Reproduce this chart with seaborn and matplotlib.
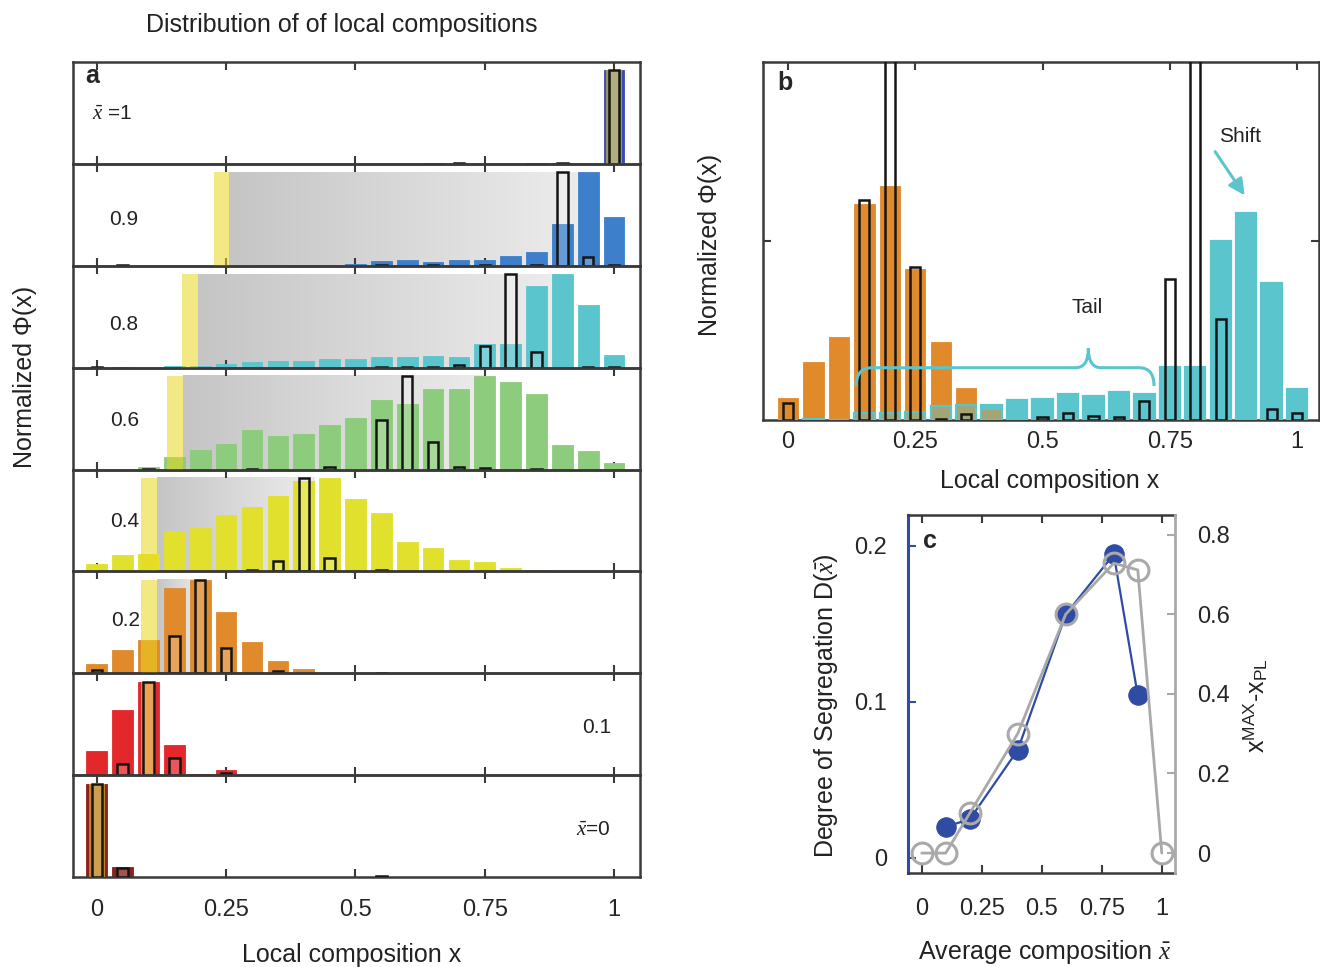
import numpy as np
import pandas as pd
import matplotlib
matplotlib.use("Agg")
import matplotlib.pyplot as plt
import seaborn as sns
from matplotlib.colors import LinearSegmentedColormap
from matplotlib.path import Path
from matplotlib.patches import PathPatch

# ---------------------------------------------------------------- data
bins = [0.00, 0.05, 0.10, 0.15, 0.20, 0.25, 0.30, 0.35, 0.40, 0.45, 0.50,
        0.55, 0.60, 0.65, 0.70, 0.75, 0.80, 0.85, 0.90, 0.95, 1.00]
xticks = [0, 0.25, 0.5, 0.75, 1]
xtick_labels = ["0", "0.25", "0.5", "0.75", "1"]

row_labels = [r"$\bar{x}$ =1", "0.9", "0.8", "0.6", "0.4", "0.2", "0.1", r"$\bar{x}$=0"]
row_colors = ["#3a4cb0", "#3d7fcb", "#5bc5ce", "#8dcc7c", "#e1e12d", "#e08a2c", "#e3282c", "#8e1f1f"]

# normalized Phi(x) (coloured bars), panel a, top to bottom
phi_10 = [0, 0, 0, 0, 0, 0, 0, 0, 0, 0, 0, 0, 0, 0.005, 0, 0, 0, 0.005, 0.012, 0, 1.0]
phi_09 = [0, 0, 0, 0, 0, 0, 0, 0, 0, 0, 0.015, 0.055, 0.058, 0.044, 0.065, 0.065, 0.099, 0.142, 0.445, 1.0, 0.518]
phi_08 = [0.005, 0.003, 0, 0.022, 0.022, 0.037, 0.059, 0.066, 0.066, 0.092, 0.095, 0.117, 0.114, 0.128, 0.117, 0.256, 0.256, 0.872, 1.0, 0.667, 0.139]
phi_06 = [0, 0, 0.029, 0.135, 0.205, 0.278, 0.421, 0.363, 0.385, 0.48, 0.546, 0.74, 0.703, 0.864, 0.857, 1.0, 0.934, 0.813, 0.264, 0.201, 0.066]
phi_04 = [0.075, 0.175, 0.187, 0.437, 0.466, 0.604, 0.687, 0.806, 0.963, 1.0, 0.776, 0.627, 0.31, 0.25, 0.119, 0.104, 0.037, 0.011, 0, 0, 0]
phi_02 = [0.094, 0.25, 0.359, 0.917, 1.0, 0.652, 0.337, 0.134, 0.043, 0, 0, 0, 0, 0, 0, 0, 0, 0, 0, 0, 0]
phi_01 = [0.253, 0.693, 1.0, 0.325, 0.014, 0.058, 0, 0, 0, 0, 0, 0, 0, 0, 0, 0, 0, 0, 0, 0, 0]
phi_00 = [1.0, 0.112, 0, 0, 0, 0, 0, 0, 0, 0, 0, 0.004, 0, 0, 0, 0, 0, 0, 0, 0, 0]

# PL reference distribution (black open bars), panel a
pl_10 = [0, 0, 0, 0, 0, 0, 0, 0, 0, 0, 0, 0, 0, 0, 0.01, 0, 0, 0, 0.012, 0, 1.0]
pl_09 = [0, 0.008, 0, 0, 0, 0, 0, 0, 0, 0, 0, 0.006, 0, 0.005, 0, 0.005, 0, 0.008, 1.0, 0.09, 0.012]
pl_08 = [0.006, 0, 0, 0, 0, 0, 0, 0, 0, 0, 0, 0.006, 0.004, 0.004, 0.03, 0.227, 1.0, 0.168, 0, 0.008, 0.008]
pl_06 = [0, 0, 0.004, 0, 0, 0, 0.008, 0, 0, 0.03, 0, 0.531, 1.0, 0.293, 0.026, 0.012, 0, 0.006, 0, 0, 0]
pl_04 = [0, 0, 0, 0, 0, 0, 0.02, 0.112, 1.0, 0.142, 0, 0.02, 0, 0, 0, 0, 0, 0, 0, 0, 0]
pl_02 = [0.04, 0, 0, 0.395, 1.0, 0.275, 0, 0.02, 0, 0, 0, 0.008, 0, 0, 0, 0, 0, 0, 0, 0, 0]
pl_01 = [0, 0.116, 1.0, 0.188, 0, 0.02, 0, 0, 0, 0, 0, 0, 0, 0, 0, 0, 0, 0, 0, 0, 0]
pl_00 = [1.0, 0.10, 0, 0, 0, 0, 0, 0, 0, 0, 0, 0.006, 0, 0, 0, 0, 0, 0, 0, 0, 0]

phi_rows = [phi_10, phi_09, phi_08, phi_06, phi_04, phi_02, phi_01, phi_00]
pl_rows = [pl_10, pl_09, pl_08, pl_06, pl_04, pl_02, pl_01, pl_00]

x_pl = [1.0, 0.241, 0.18, 0.151, 0.101, 0.101, 0.1, 0.0]          # yellow markers
x_grad_end = [None, 0.93, 0.89, 0.75, 0.42, 0.20, None, None]    # end of grey tail

# panel b
b_phi_02 = [0.061, 0.162, 0.233, 0.604, 0.655, 0.421, 0.218, 0.088, 0.028, 0, 0, 0, 0, 0, 0, 0, 0, 0, 0, 0, 0]
b_phi_08 = [0, 0.002, 0, 0.019, 0.02, 0.022, 0.039, 0.043, 0.041, 0.056, 0.058, 0.073, 0.068, 0.079, 0.073, 0.147, 0.147, 0.501, 0.579, 0.384, 0.087]
b_pl_02 = [0.048, 0, 0, 0.614, 1.6, 0.426, 0.004, 0.018, 0, 0, 0, 0, 0, 0, 0, 0, 0, 0, 0, 0, 0]
b_pl_08 = [0, 0, 0, 0, 0, 0, 0, 0, 0, 0, 0.009, 0.02, 0.011, 0.009, 0.053, 0.393, 1.6, 0.281, 0, 0.03, 0.019]

# panel c
c_xbar_D = [0.1, 0.2, 0.4, 0.6, 0.8, 0.9]
c_D = [0.0199, 0.0246, 0.069, 0.156, 0.1945, 0.104]
c_xbar_S = [0.0, 0.1, 0.2, 0.4, 0.6, 0.8, 0.9, 1.0]
c_S = [0.0, 0.0, 0.1, 0.3, 0.6, 0.728, 0.711, 0.0]

# ---------------------------------------------------------------- style
sns.set_theme(style="white")
plt.rcParams["font.family"] = ["Liberation Sans", "DejaVu Sans"]
plt.rcParams["mathtext.fontset"] = "custom"
plt.rcParams["mathtext.rm"] = "Liberation Sans"
plt.rcParams["mathtext.it"] = "Liberation Serif:italic"
plt.rcParams["mathtext.bf"] = "Liberation Sans:bold"

SPINE = "#3a3a3a"
YELLOW = "#e8d820"
CYAN = "#5bc5ce"
ORANGE = "#e08a2c"
BLUE_C = "#2f4ba3"
GRAY_C = "#a9a9a9"
TICK_FS = 17
LAB_FS = 18

W, H = 1320, 967
fig = plt.figure(figsize=(W / 100, H / 100), dpi=100)
fig.patch.set_facecolor("white")


def fx(px):
    return px / W


def fy(py):
    return 1 - py / H


def style_spines(ax, color=SPINE, lw=1.8):
    for s in ax.spines.values():
        s.set_visible(True)
        s.set_color(color)
        s.set_linewidth(lw)


grad_cmap = LinearSegmentedColormap.from_list("tail", ["#c5c5c5", "#ececec"])
grad_img = np.linspace(0, 1, 256).reshape(1, -1)

# ---------------------------------------------------------------- panel a
a_l, a_r, a_t, a_b = 73, 640, 62, 877
row_h = (a_b - a_t) / 8
axes_a = []
for i in range(8):
    top = a_t + i * row_h
    ax = fig.add_axes([fx(a_l), fy(top + row_h), fx(a_r - a_l), row_h / H])
    axes_a.append(ax)
    col = row_colors[i]
    # grey gradient (tail region)
    if x_grad_end[i] is not None:
        ax.imshow(grad_img, extent=[x_pl[i] + 0.015, x_grad_end[i], 0, 1.0],
                  cmap=grad_cmap, aspect="auto", zorder=0.5, interpolation="bilinear")
    df = pd.DataFrame({"x": bins, "phi": phi_rows[i]})
    sns.barplot(data=df, x="x", y="phi", native_scale=True, color=col,
                saturation=1, width=0.8, errorbar=None, ax=ax,
                edgecolor=col, linewidth=0.6, zorder=2)
    # yellow x_PL marker
    ax.bar([x_pl[i]], [1.0], width=0.03, color=YELLOW, alpha=0.55,
           linewidth=0, zorder=3)
    # open PL bars
    pl = np.array(pl_rows[i])
    m = pl > 0
    ax.bar(np.array(bins)[m], pl[m], width=0.02, facecolor=(1, 1, 1, 0.22),
           edgecolor="#151515", linewidth=1.8, zorder=4)
    ax.set_xlim(-0.046, 1.05)
    ax.set_ylim(0, 1.09)
    ax.set_xlabel("")
    ax.set_ylabel("")
    ax.set_yticks([])
    ax.set_xticks(xticks)
    ax.tick_params(axis="x", direction="in", top=True, bottom=True, length=6,
                   width=1.5, color=SPINE, labelsize=TICK_FS,
                   labelbottom=(i == 7), pad=16)
    if i == 7:
        ax.set_xticklabels(xtick_labels)
    style_spines(ax)
    ax.set_facecolor("none")

# row labels (axes-fraction positions)
lab_pos = [(0.069, 0.49), (0.090, 0.45), (0.090, 0.42), (0.092, 0.48),
           (0.092, 0.49), (0.092, 0.52), (0.924, 0.47), (0.918, 0.47)]
for i, (lx, ly) in enumerate(lab_pos):
    axes_a[i].text(lx, ly, row_labels[i], transform=axes_a[i].transAxes,
                   fontsize=15, ha="center", va="center", color="#222", zorder=6)

axes_a[0].text(0.034, 0.86, "a", transform=axes_a[0].transAxes, fontsize=18,
               fontweight="bold", ha="center", va="center")
fig.text(fx(342), fy(25), "Distribution of of local compositions", fontsize=LAB_FS,
         ha="center", va="center", color="#222")
fig.text(fx(352), fy(955), "Local composition x", fontsize=LAB_FS,
         ha="center", va="center", color="#222")
fig.text(fx(25), fy(377), "Normalized \u03a6(x)", fontsize=LAB_FS, rotation=90,
         ha="center", va="center", color="#222")

# ---------------------------------------------------------------- panel b
b_l, b_r, b_t, b_b = 763, 1319, 62, 420
axb = fig.add_axes([fx(b_l), fy(b_b), fx(b_r - b_l), (b_b - b_t) / H])
dfb = pd.DataFrame({"x": bins, "p02": b_phi_02, "p08": b_phi_08})
sns.barplot(data=dfb, x="x", y="p08", native_scale=True, color=CYAN, saturation=1,
            width=0.8, errorbar=None, ax=axb, edgecolor=CYAN, linewidth=0.6, zorder=1)
sns.barplot(data=dfb, x="x", y="p02", native_scale=True, color=ORANGE, saturation=1,
            width=0.8, errorbar=None, ax=axb, edgecolor=ORANGE, linewidth=0.6, zorder=2)
axb.bar(bins, b_phi_08, width=0.04, facecolor=(0.357, 0.773, 0.808, 0.45),
        edgecolor=CYAN, linewidth=1.6, zorder=3)
for pl in (b_pl_02, b_pl_08):
    pl = np.array(pl)
    m = pl > 0
    axb.bar(np.array(bins)[m], pl[m], width=0.02, facecolor="none",
            edgecolor="#151515", linewidth=1.8, zorder=4)
axb.set_xlim(-0.049, 1.043)
axb.set_ylim(0, 1.0)
axb.set_xlabel("")
axb.set_ylabel("")
axb.set_xticks(xticks)
axb.set_xticklabels(xtick_labels)
axb.set_yticks([0.5])
axb.set_yticklabels([])
axb.tick_params(axis="both", direction="in", top=True, bottom=True, left=True,
                right=True, length=6, width=1.5, color=SPINE, labelsize=TICK_FS, pad=8)
style_spines(axb)

# brace ("Tail")
brace = Path(
    [(0.134, 0.095), (0.134, 0.146), (0.165, 0.146), (0.565, 0.146),
     (0.59, 0.146), (0.59, 0.2), (0.59, 0.146), (0.615, 0.146),
     (0.69, 0.146), (0.719, 0.146), (0.719, 0.095)],
    [Path.MOVETO, Path.CURVE3, Path.CURVE3, Path.LINETO,
     Path.CURVE3, Path.CURVE3, Path.CURVE3, Path.CURVE3,
     Path.LINETO, Path.CURVE3, Path.CURVE3])
axb.add_patch(PathPatch(brace, facecolor="none", edgecolor=CYAN, linewidth=2.2, zorder=5))
axb.text(0.587, 0.314, "Tail", fontsize=15, ha="center", va="center", color="#222")
axb.text(0.888, 0.793, "Shift", fontsize=15, ha="center", va="center", color="#222")
axb.annotate("", xy=(0.90, 0.621), xytext=(0.836, 0.756),
             arrowprops=dict(arrowstyle="-|>", color=CYAN, lw=2.2, mutation_scale=24))
axb.text(0.04, 0.94, "b", transform=axb.transAxes, fontsize=18, fontweight="bold",
         ha="center", va="center")
fig.text(fx(1050), fy(481), "Local composition x", fontsize=LAB_FS,
         ha="center", va="center", color="#222")
fig.text(fx(710), fy(245), "Normalized \u03a6(x)", fontsize=LAB_FS, rotation=90,
         ha="center", va="center", color="#222")

# ---------------------------------------------------------------- panel c
c_l, c_r, c_t, c_b = 908, 1175, 515, 873
axc = fig.add_axes([fx(c_l), fy(c_b), fx(c_r - c_l), (c_b - c_t) / H])
sns.lineplot(x=c_xbar_D, y=c_D, ax=axc, color=BLUE_C, linewidth=1.6, marker="o",
             markersize=14, markeredgecolor=BLUE_C, markerfacecolor=BLUE_C, zorder=3)
axc.set_xlim(-0.057, 1.055)
axc.set_ylim(-0.0098, 0.2197)
axc.set_xticks(xticks)
axc.set_xticklabels(xtick_labels)
axc.set_yticks([0, 0.1, 0.2])
axc.set_yticklabels(["0", "0.1", "0.2"])
axc.set_xlabel("")
axc.set_ylabel("")
axc.tick_params(axis="x", direction="in", top=True, bottom=True, length=6, width=1.5,
                color=SPINE, labelsize=TICK_FS, pad=18)
axc.tick_params(axis="y", direction="in", left=True, right=False, length=6, width=1.5,
                color=BLUE_C, labelsize=TICK_FS, pad=15)
style_spines(axc)
axc.spines["left"].set_color(BLUE_C)
axc.spines["left"].set_linewidth(2.2)

ax2 = axc.twinx()
sns.lineplot(x=c_xbar_S, y=c_S, ax=ax2, color=GRAY_C, linewidth=2.0, marker="o",
             markersize=15, markeredgecolor=GRAY_C, markerfacecolor="none",
             markeredgewidth=2.2, zorder=4)
ax2.set_ylim(-0.05, 0.849)
ax2.set_yticks([0, 0.2, 0.4, 0.6, 0.8])
ax2.set_yticklabels(["0", "0.2", "0.4", "0.6", "0.8"])
ax2.set_xlabel("")
ax2.set_ylabel("")
ax2.tick_params(axis="y", direction="in", right=True, left=False, length=6, width=1.5,
                color=GRAY_C, labelsize=TICK_FS, pad=16)
for s in ax2.spines.values():
    s.set_visible(False)
ax2.spines["right"].set_visible(True)
ax2.spines["right"].set_color(GRAY_C)
ax2.spines["right"].set_linewidth(2.0)
axc.spines["right"].set_visible(False)
ax2.set_xlim(-0.057, 1.055)

axc.text(0.082, 0.927, "c", transform=axc.transAxes, fontsize=18, fontweight="bold",
         ha="center", va="center")
fig.text(fx(1045), fy(952), r"Average composition $\bar{x}$", fontsize=LAB_FS,
         ha="center", va="center", color="#222")
fig.text(fx(826), fy(706), r"Degree of Segregation D($\bar{x}$)", fontsize=LAB_FS,
         rotation=90, ha="center", va="center", color="#222")
fig.text(fx(1256), fy(705), r"x$^{\rm MAX}$-x$_{\rm PL}$", fontsize=LAB_FS,
         rotation=90, ha="center", va="center", color="#222")

fig.savefig("out.png", dpi=100)
